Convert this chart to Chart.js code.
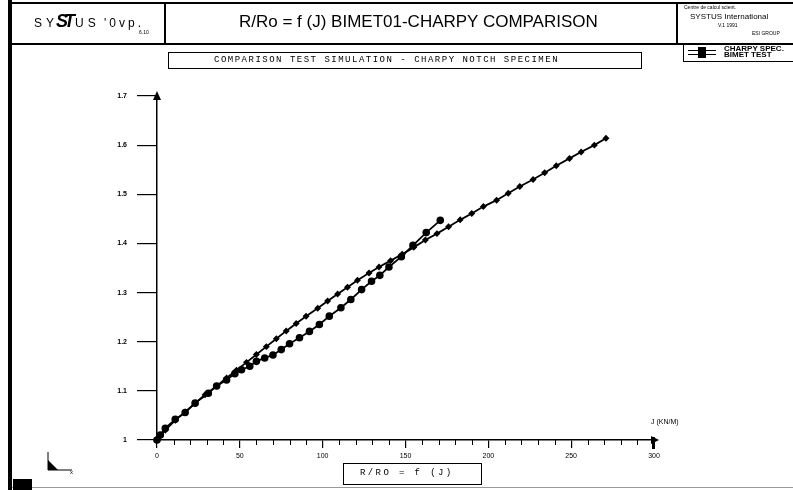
<!DOCTYPE html>
<html>
<head>
<meta charset="utf-8">
<script src="https://cdn.jsdelivr.net/npm/chart.js@4.4.1/dist/chart.umd.min.js"></script>
<style>
html, body { margin: 0; padding: 0; background: #fff; }
#wrap { position: relative; width: 793px; height: 490px; overflow: hidden; font-family: "Liberation Sans", Arial, sans-serif; }
#chart { position: absolute; left: 0; top: 0; }
.t { position: absolute; white-space: nowrap; color: #000; line-height: 1; }
.mono { font-family: "Liberation Mono", "DejaVu Sans Mono", monospace; }
</style>
</head>
<body>
<div id="wrap">
<canvas id="chart" width="793" height="490"></canvas>

<div class="t" style="left:34px;top:17px;font-size:12px;letter-spacing:4px;">SY</div>
<div class="t" style="left:56px;top:12px;font-size:18px;font-weight:bold;font-style:italic;letter-spacing:-4px;">ST</div>
<div class="t" style="left:75px;top:17px;font-size:12px;letter-spacing:4px;">US</div>
<div class="t" style="left:104px;top:17px;font-size:12px;letter-spacing:3px;">'0vp.</div>
<div class="t" style="left:139px;top:30px;font-size:5px;">6.10</div>

<div class="t" style="left:239px;top:13px;font-size:17px;">R/Ro = f (J) BIMET01-CHARPY COMPARISON</div>

<div class="t" style="left:684px;top:5px;font-size:5px;">Centre de calcul scient.</div>
<div class="t" style="left:690px;top:13px;font-size:8px;">SYSTUS International</div>
<div class="t" style="left:718px;top:23px;font-size:5px;">V.1 1991</div>
<div class="t" style="left:752px;top:31px;font-size:5px;">ESI GROUP</div>

<div class="t mono" style="left:214px;top:56px;font-size:9px;letter-spacing:1.5px;">COMPARISON TEST SIMULATION - CHARPY NOTCH SPECIMEN</div>

<div class="t" style="left:724px;top:46px;font-size:8px;font-weight:bold;line-height:6px;">CHARPY SPEC.<br>BIMET TEST</div>

<div class="t" style="left:651px;top:418px;font-size:7px;">J (KN/M)</div>

<div class="t mono" style="left:360px;top:469px;font-size:9px;letter-spacing:2.4px;">R/RO = f (J)</div>

</div>
<script>
// CHARPY SPEC. (small markers)
const charpyJ = [0, 5, 11, 17, 23, 29, 36, 42, 48, 54, 60, 66, 72, 78, 84, 90, 97, 103, 109, 115, 121, 128, 134, 141, 148, 155, 162, 169, 176, 183, 190, 197, 205, 212, 219, 227, 234, 241, 249, 256, 264, 271];
const charpyR = [1.0, 1.02, 1.04, 1.057, 1.075, 1.092, 1.11, 1.126, 1.142, 1.158, 1.174, 1.19, 1.206, 1.222, 1.237, 1.252, 1.268, 1.283, 1.297, 1.311, 1.325, 1.34, 1.352, 1.365, 1.378, 1.392, 1.407, 1.42, 1.434, 1.448, 1.461, 1.475, 1.488, 1.502, 1.516, 1.53, 1.544, 1.558, 1.573, 1.586, 1.6, 1.614];

// BIMET TEST (big markers)
const bimetJ = [0, 2, 5, 11, 17, 23, 31, 36, 42, 47, 51, 56, 60, 65, 70, 75, 80, 86, 92, 98, 104, 111, 117, 123.5, 129.5, 134.5, 140, 147.5, 154.5, 162.5, 171];
const bimetR = [1.0, 1.01, 1.024, 1.042, 1.056, 1.075, 1.095, 1.11, 1.122, 1.135, 1.143, 1.15, 1.16, 1.167, 1.173, 1.184, 1.196, 1.208, 1.221, 1.235, 1.252, 1.269, 1.286, 1.306, 1.323, 1.335, 1.352, 1.373, 1.396, 1.422, 1.447];

const xTicks = [0, 50, 100, 150, 200, 250, 300];
const yTicks = [1, 1.1, 1.2, 1.3, 1.4, 1.5, 1.6, 1.7];

function toPoints(xs, ys) {
    return xs.map((x, i) => ({ x: x, y: ys[i] }));
}

// frame, header boxes, arrows, minor ticks
const framePlugin = {
    id: 'frame',
    afterDraw(chart) {
        const ctx = chart.ctx;
        const xs = chart.scales.x, ys = chart.scales.y;
        ctx.save();
        ctx.fillStyle = '#999';
        ctx.fillRect(12, 487, 781, 1);    // bottom line
        ctx.fillStyle = '#000';
        ctx.fillRect(8, 0, 4, 490);       // left border
        ctx.fillRect(10, 2, 783, 2);      // top border
        ctx.fillRect(10, 43, 783, 2);     // header bottom
        ctx.fillRect(164, 2, 2, 42);
        ctx.fillRect(676, 2, 2, 42);
        ctx.fillRect(13, 479, 19, 11);    // black block bottom left

        ctx.strokeStyle = '#000';
        ctx.lineWidth = 1;
        ctx.strokeRect(168.5, 52.5, 473, 16);
        ctx.strokeRect(683.5, 44.5, 112, 17);
        ctx.strokeRect(343.5, 463.5, 138, 21);

        // legend symbol
        ctx.beginPath();
        ctx.moveTo(688, 50.5); ctx.lineTo(716, 50.5);
        ctx.moveTo(688, 54.5); ctx.lineTo(716, 54.5);
        ctx.stroke();
        ctx.fillRect(698, 47, 8, 11);

        // axis arrows
        const x0 = xs.getPixelForValue(0), y0 = ys.getPixelForValue(1);
        const yTop = ys.getPixelForValue(1.7), xEnd = xs.getPixelForValue(300);
        ctx.beginPath();
        ctx.moveTo(x0, yTop - 5); ctx.lineTo(x0 - 4, yTop + 4); ctx.lineTo(x0 + 4, yTop + 4);
        ctx.closePath(); ctx.fill();
        ctx.beginPath();
        ctx.moveTo(xEnd + 5, y0); ctx.lineTo(xEnd - 3, y0 - 4); ctx.lineTo(xEnd - 3, y0 + 4);
        ctx.closePath(); ctx.fill();
        ctx.fillRect(xEnd - 2, y0 - 3, 3, 12);

        // minor ticks on x
        ctx.lineWidth = 1;
        ctx.beginPath();
        for (let v = 10; v < 300; v += 10) {
            if (v % 50 === 0) continue;
            const px = Math.round(xs.getPixelForValue(v)) + 0.5;
            ctx.moveTo(px, y0); ctx.lineTo(px, y0 + 5);
        }
        ctx.stroke();

        // little axis triad bottom-left
        ctx.beginPath();
        ctx.moveTo(48, 452); ctx.lineTo(48, 470); ctx.lineTo(72, 470);
        ctx.stroke();
        ctx.beginPath();
        ctx.moveTo(48, 460); ctx.lineTo(48, 470); ctx.lineTo(58, 470);
        ctx.closePath(); ctx.fill();
        ctx.font = '6px "Liberation Sans"';
        ctx.fillText('x', 70, 474);
        ctx.restore();
    }
};

new Chart(document.getElementById('chart').getContext('2d'), {
    type: 'scatter',
    data: {
        datasets: [
            {
                label: 'CHARPY SPEC.',
                data: toPoints(charpyJ, charpyR),
                showLine: true,
                borderColor: '#000',
                backgroundColor: '#000',
                borderWidth: 1.8,
                pointStyle: 'rectRot',
                pointRadius: 2.2,
                clip: false
            },
            {
                label: 'BIMET TEST',
                data: toPoints(bimetJ, bimetR),
                showLine: true,
                borderColor: '#000',
                backgroundColor: '#000',
                borderWidth: 1.8,
                pointStyle: 'circle',
                pointRadius: 2.9,
                clip: false
            }
        ]
    },
    options: {
        responsive: false,
        animation: false,
        layout: { padding: { left: 97, right: 139, top: 96, bottom: 0 } },
        plugins: { legend: { display: false }, tooltip: { enabled: false } },
        scales: {
            x: {
                type: 'linear',
                min: 0,
                max: 300,
                afterFit: s => { s.height = 50; },
                afterBuildTicks: s => { s.ticks = xTicks.map(v => ({ value: v })); },
                border: { display: true, color: '#000', width: 1.5 },
                grid: { drawOnChartArea: false, color: '#000', tickLength: 8, lineWidth: 1.2 },
                ticks: { color: '#000', font: { size: 7, family: 'Liberation Sans' }, padding: 4, maxRotation: 0 }
            },
            y: {
                type: 'linear',
                min: 1,
                max: 1.7,
                afterFit: s => { s.width = 60; },
                afterBuildTicks: s => { s.ticks = yTicks.map(v => ({ value: v })); },
                border: { display: true, color: '#000', width: 1.5 },
                grid: { drawOnChartArea: false, color: '#000', tickLength: 20, lineWidth: 1.2 },
                ticks: {
                    color: '#000',
                    font: { size: 7, family: 'Liberation Sans', weight: 'bold' },
                    padding: 10,
                    callback: v => String(+v.toFixed(2))
                }
            }
        }
    },
    plugins: [framePlugin]
});
</script>
</body>
</html>
